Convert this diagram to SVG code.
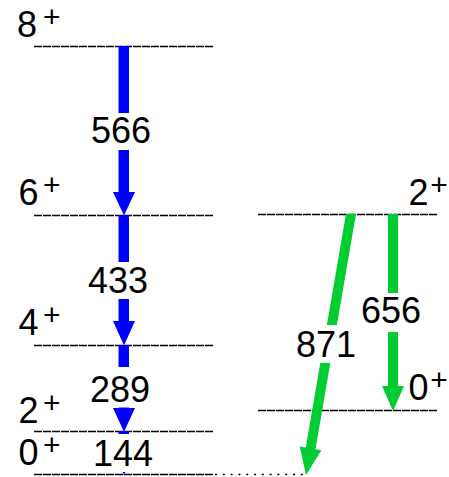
<svg xmlns="http://www.w3.org/2000/svg" width="449" height="477" viewBox="0 0 449 477">
<style>
.lvl{stroke:#000;stroke-width:1.5;stroke-dasharray:8 1;fill:none}
.dot{stroke:#000;stroke-width:1.5;stroke-dasharray:2 5.8;fill:none}
.blue{fill:#0000ff}
.green{fill:#00cc33}
.bg{fill:#fff}
.t{font-family:"Liberation Sans",Arial,sans-serif;font-size:36px;fill:#000}
.tl{text-anchor:middle}
.sup{font-family:"Liberation Sans",Arial,sans-serif;font-size:30px;fill:#000}
</style>
<rect width="449" height="477" fill="#fff"/>
<g id="levels">
<g id="L8"><line class="lvl" x1="34" y1="46.5" x2="214" y2="46.5"/><text class="t" x="17" y="37">8</text><text class="sup" x="43" y="26.5">+</text></g>
<g id="L6"><line class="lvl" x1="34" y1="215.5" x2="214" y2="215.5"/><text class="t" x="18.5" y="205">6</text><text class="sup" x="43" y="194.5">+</text></g>
<g id="L4"><line class="lvl" x1="34" y1="345.5" x2="214" y2="345.5"/><text class="t" x="18.5" y="335">4</text><text class="sup" x="43" y="324.5">+</text></g>
<g id="L2"><line class="lvl" x1="34" y1="431.5" x2="214" y2="431.5"/><text class="t" x="18.5" y="423">2</text><text class="sup" x="43" y="412.5">+</text></g>
<g id="L0"><line class="lvl" x1="34" y1="474.5" x2="214" y2="474.5"/><text class="t" x="18.5" y="465">0</text><text class="sup" x="43" y="454.5">+</text></g>
<g id="R2"><line class="lvl" x1="258" y1="214.5" x2="438" y2="214.5"/><text class="t" x="408.5" y="205">2</text><text class="sup" x="430.3" y="194.7">+</text></g>
<g id="R0"><line class="lvl" x1="258" y1="410.5" x2="438" y2="410.5"/><text class="t" x="408.5" y="400">0</text><text class="sup" x="430.3" y="389.7">+</text></g>
</g>
<g id="connectors">
<line class="dot" x1="215" y1="474.5" x2="305" y2="474.5"/>
<g id="t566"><rect class="blue" x="118.5" y="46" width="10.5" height="147"/><polygon class="blue" points="113,192 135,192 124,215.5"/><rect class="bg" x="88" y="113" width="70" height="37"/><text class="t tl" x="121" y="143">566</text></g>
<g id="t433"><rect class="blue" x="118.5" y="215" width="10.5" height="107"/><polygon class="blue" points="113,321 135,321 124,345.5"/><rect class="bg" x="85" y="262" width="70" height="37"/><text class="t tl" x="118" y="293">433</text></g>
<g id="t289"><rect class="blue" x="118.5" y="345" width="10.5" height="64"/><polygon class="blue" points="113,408 135,408 124,432"/><rect class="bg" x="86" y="367" width="70" height="40.5"/><text class="t tl" x="120" y="402">289</text></g>
<g id="t144"><rect class="blue" x="118.5" y="431" width="10.5" height="21"/><polygon class="blue" points="113,451 135,451 124,475"/><rect class="bg" x="89" y="434" width="70" height="38"/><text class="t tl" x="123" y="466">144</text></g>
<g id="t656"><rect class="green" x="388" y="214" width="10" height="173"/><polygon class="green" points="382,386 404,386 393,411"/><rect class="bg" x="358" y="293" width="66" height="39"/><text class="t tl" x="391" y="323">656</text></g>
<g id="t871"><polygon class="green" points="346,214 356,214 315.5,449 305.5,449"/><polygon class="green" points="299.8,446.5 321.4,450.3 306,475"/><rect class="bg" x="296" y="325" width="62" height="38"/><text class="t tl" x="326" y="357">871</text></g>
</g>
</svg>
